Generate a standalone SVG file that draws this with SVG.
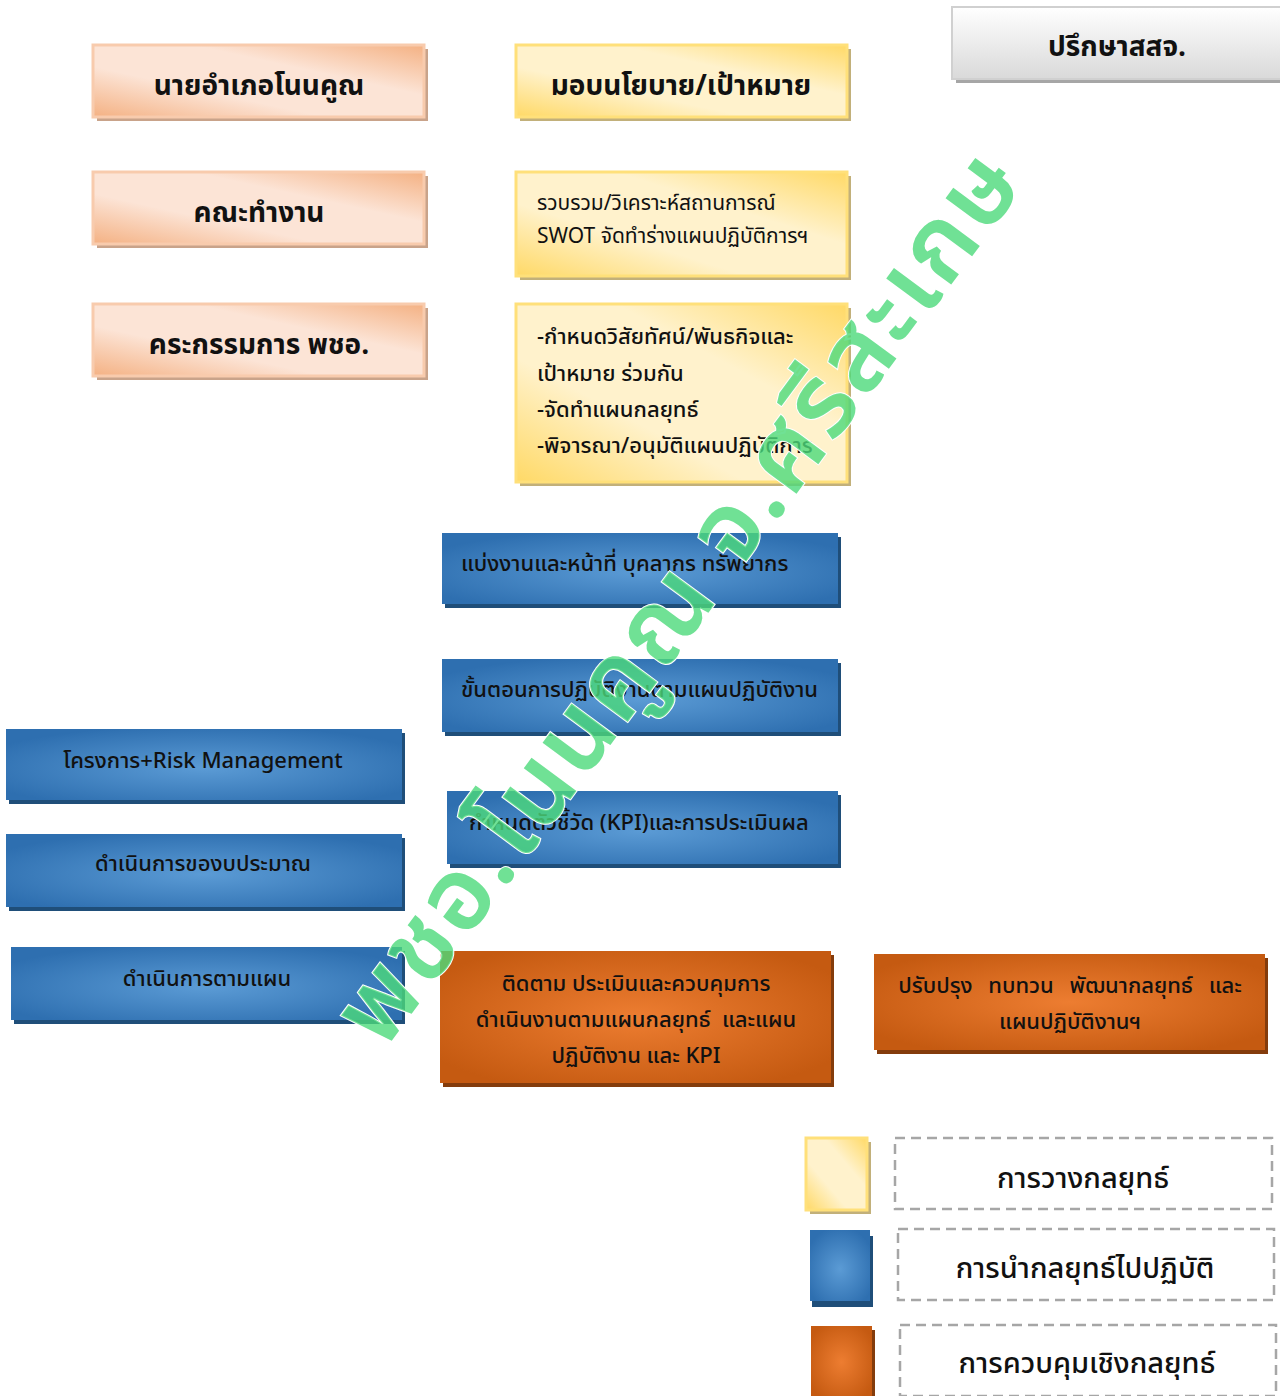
<svg xmlns="http://www.w3.org/2000/svg" width="1280" height="1396" viewBox="0 0 1280 1396">
<defs>
<linearGradient id="gPeach" x1="0" y1="1" x2="1" y2="0">
<stop offset="0" stop-color="#F4B183"/><stop offset="0.35" stop-color="#FCE4D6"/><stop offset="0.65" stop-color="#FCE4D6"/><stop offset="1" stop-color="#F4B183"/>
</linearGradient>
<linearGradient id="gYellow" x1="0" y1="1" x2="1" y2="0">
<stop offset="0" stop-color="#FFD966"/><stop offset="0.35" stop-color="#FFF2CC"/><stop offset="0.65" stop-color="#FFF2CC"/><stop offset="1" stop-color="#FFD966"/>
</linearGradient>
<linearGradient id="gGrey" x1="0" y1="0" x2="0" y2="1">
<stop offset="0" stop-color="#FFFFFF"/><stop offset="1" stop-color="#D9D9D9"/>
</linearGradient>
<radialGradient id="gBlue" cx="0.5" cy="0.55" r="0.6">
<stop offset="0" stop-color="#5B9BD5"/><stop offset="1" stop-color="#2E6FB0"/>
</radialGradient>
<radialGradient id="gOrange" cx="0.5" cy="0.5" r="0.6">
<stop offset="0" stop-color="#ED7D31"/><stop offset="1" stop-color="#C55A11"/>
</radialGradient>
</defs>
<style>
.t{font-family:"Noto Sans Thai","Noto Sans","DejaVu Sans",sans-serif;fill:#111}
.h{font-size:28px;font-weight:bold;text-anchor:middle}
.m{font-size:22px;font-weight:500}
.c{text-anchor:middle}
.shP{fill:#C9A38A}.shY{fill:#C2B07A}.shB{fill:#1F4E79}.shO{fill:#843C0C}.shG{fill:#A6A6A6}
.bP{fill:url(#gPeach);stroke:#F8CBAD;stroke-width:3}
.bY{fill:url(#gYellow);stroke:#FFE07A;stroke-width:3}
.bB{fill:url(#gBlue)}
.bO{fill:url(#gOrange)}
.bG{fill:url(#gGrey);stroke:#D0D0D0;stroke-width:2}
.leg{fill:none;stroke:#A6A6A6;stroke-width:2.5;stroke-dasharray:10 6}
.lg{font-size:29px;font-weight:500;text-anchor:middle}
</style>
<rect width="1280" height="1396" fill="#FFFFFF"/>

<g id="n-naiamphoe"><rect class="shP" x="97" y="49" width="331" height="72"/><rect class="bP" x="93" y="45" width="331" height="72"/><text class="t h" x="259" y="95">นายอำเภอโนนคูณ</text></g>
<g id="n-khanatamngan"><rect class="shP" x="97" y="176" width="331" height="72"/><rect class="bP" x="93" y="172" width="331" height="72"/><text class="t h" x="259" y="222">คณะทำงาน</text></g>
<g id="n-committee"><rect class="shP" x="97" y="308" width="331" height="72"/><rect class="bP" x="93" y="304" width="331" height="72"/><text class="t h" x="259" y="354">คระกรรมการ พชอ.</text></g>

<g id="n-policy"><rect class="shY" x="520" y="49" width="331" height="72"/><rect class="bY" x="516" y="45" width="331" height="72"/><text class="t h" x="681" y="95">มอบนโยบาย/เป้าหมาย</text></g>
<g id="n-swot"><rect class="shY" x="520" y="176" width="331" height="104"/><rect class="bY" x="516" y="172" width="331" height="104"/><text class="t" font-size="21" x="537" y="210">รวบรวม/วิเคราะห์สถานการณ์</text><text class="t" font-size="21" x="537" y="243">SWOT จัดทำร่างแผนปฏิบัติการฯ</text></g>
<g id="n-vision"><rect class="shY" x="520" y="308" width="331" height="178"/><rect class="bY" x="516" y="304" width="331" height="178"/><text class="t m" x="537" y="344">-กำหนดวิสัยทัศน์/พันธกิจและ</text><text class="t m" x="537" y="381">เป้าหมาย ร่วมกัน</text><text class="t m" x="537" y="417">-จัดทำแผนกลยุทธ์</text><text class="t m" x="537" y="453">-พิจารณา/อนุมัติแผนปฏิบัติการ</text></g>

<g id="n-consult"><rect class="shG" x="956" y="11" width="324" height="72"/><rect class="bG" x="952" y="7" width="330" height="72"/><text class="t h" x="1117" y="56">ปรึกษาสสจ.</text></g>

<g id="n-divide"><rect class="shB" x="445" y="537" width="396" height="71"/><rect class="bB" x="442" y="533" width="396" height="71"/><text class="t m" x="461" y="571">แบ่งงานและหน้าที่ บุคลากร ทรัพยากร</text></g>
<g id="n-steps"><rect class="shB" x="445" y="663" width="396" height="73"/><rect class="bB" x="442" y="659" width="396" height="73"/><text class="t m" x="461" y="697">ขั้นตอนการปฏิบัติงานตามแผนปฏิบัติงาน</text></g>
<g id="n-kpi"><rect class="shB" x="450" y="795" width="391" height="73"/><rect class="bB" x="447" y="791" width="391" height="73"/><text class="t m" x="469" y="830">กำหนดตัวชี้วัด (KPI)และการประเมินผล</text></g>

<g id="n-project"><rect class="shB" x="9" y="733" width="396" height="71"/><rect class="bB" x="6" y="729" width="396" height="71"/><text class="t m c" x="203" y="768">โครงการ+Risk Management</text></g>
<g id="n-budget"><rect class="shB" x="9" y="838" width="396" height="73"/><rect class="bB" x="6" y="834" width="396" height="73"/><text class="t m c" x="203" y="871">ดำเนินการของบประมาณ</text></g>
<g id="n-doplan"><rect class="shB" x="14" y="951" width="391" height="73"/><rect class="bB" x="11" y="947" width="391" height="73"/><text class="t m c" x="207" y="986">ดำเนินการตามแผน</text></g>

<g id="n-monitor"><rect class="shO" x="443" y="955" width="391" height="132"/><rect class="bO" x="440" y="951" width="391" height="132"/><text class="t m c" x="636" y="991">ติดตาม ประเมินและควบคุมการ</text><text class="t m c" x="636" y="1027" xml:space="preserve">ดำเนินงานตามแผนกลยุทธ์  และแผน</text><text class="t m c" x="636" y="1063">ปฏิบัติงาน และ KPI</text></g>
<g id="n-improve"><rect class="shO" x="877" y="958" width="391" height="96"/><rect class="bO" x="874" y="954" width="391" height="96"/><text class="t m c" x="1070" y="993" word-spacing="10">ปรับปรุง ทบทวน พัฒนากลยุทธ์ และ</text><text class="t m c" x="1070" y="1029">แผนปฏิบัติงานฯ</text></g>

<g id="legend">
<rect class="shY" x="810" y="1142" width="61" height="72"/><rect class="bY" x="806" y="1138" width="61" height="72"/>
<rect class="leg" x="895" y="1138" width="377" height="71"/><text class="t lg" x="1083" y="1188">การวางกลยุทธ์</text>
<rect class="shB" x="812" y="1236" width="61" height="71"/><rect class="bB" x="810" y="1230" width="60" height="71"/>
<rect class="leg" x="898" y="1229" width="376" height="71"/><text class="t lg" x="1085" y="1278">การนำกลยุทธ์ไปปฏิบัติ</text>
<rect class="shO" x="814" y="1330" width="61" height="70"/><rect class="bO" x="811" y="1326" width="61" height="72"/>
<rect class="leg" x="900" y="1325" width="376" height="71"/><text class="t lg" x="1087" y="1373">การควบคุมเชิงกลยุทธ์</text>
</g>

<g id="connectors"></g>

<g id="watermark" transform="rotate(-53.5 676 596)">
<text x="676" y="632" font-family="'Noto Sans Thai','Noto Sans','DejaVu Sans',sans-serif" font-size="102" font-weight="600" text-anchor="middle" textLength="1080" lengthAdjust="spacing" fill="#4CD97B" fill-opacity="0.8" stroke="#FFFFFF" stroke-width="2" paint-order="stroke">พชอ.โนนคูณ จ.ศรีสะเกษ</text>
</g>
</svg>
